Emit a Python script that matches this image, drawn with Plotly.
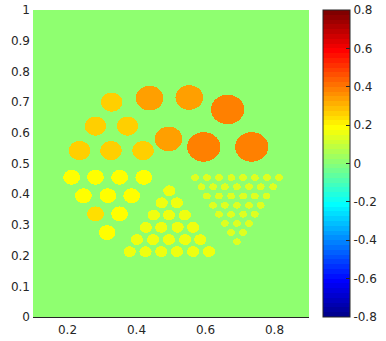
import numpy as np
import plotly.graph_objects as go

# ---- data: circles (centers in data units, radius, value) ----
big_orange_x = [0.664, 0.595, 0.734]
big_orange_y = [0.676, 0.554, 0.554]
big_orange_r = 0.048
big_orange_v = 0.38

small_orange_x = [0.438, 0.553, 0.493]
small_orange_y = [0.713, 0.715, 0.580]
small_orange_r = 0.040
small_orange_v = 0.33

yellow_x = [0.328, 0.281, 0.374, 0.235, 0.326, 0.419]
yellow_y = [0.700, 0.622, 0.622, 0.542, 0.542, 0.542]
yellow_r = 0.031
yellow_v = 0.26

bright_x = [0.212, 0.281, 0.351, 0.421, 0.246, 0.317, 0.386, 0.281, 0.351, 0.315]
bright_y = [0.455, 0.455, 0.455, 0.455, 0.395, 0.395, 0.395, 0.336, 0.336, 0.275]
bright_v = [0.19, 0.19, 0.19, 0.19, 0.19, 0.19, 0.19, 0.235, 0.19, 0.19]
bright_r = 0.024

medium_x = [0.495,
            0.473, 0.517,
            0.450, 0.494, 0.540,
            0.427, 0.472, 0.519, 0.564,
            0.401, 0.448, 0.494, 0.541, 0.585,
            0.380, 0.426, 0.472, 0.517, 0.564, 0.610]
medium_y = [0.411,
            0.372, 0.372,
            0.332, 0.332, 0.332,
            0.292, 0.292, 0.292, 0.292,
            0.252, 0.252, 0.252, 0.252, 0.252,
            0.213, 0.213, 0.213, 0.213, 0.213, 0.213]
medium_r = 0.0175
medium_v = 0.16

tiny_x = [0.570, 0.604, 0.639, 0.675, 0.709, 0.743, 0.778, 0.813,
          0.588, 0.622, 0.656, 0.691, 0.726, 0.760, 0.796,
          0.604, 0.639, 0.674, 0.709, 0.743, 0.777,
          0.622, 0.656, 0.691, 0.726, 0.760,
          0.639, 0.674, 0.709, 0.743,
          0.656, 0.691, 0.726,
          0.674, 0.709,
          0.691]
tiny_y = [0.454] * 8 + [0.424] * 7 + [0.394] * 6 + [0.364] * 5 + \
         [0.335] * 4 + [0.305] * 3 + [0.275] * 2 + [0.245]
tiny_r = 0.0112
tiny_v = 0.14

x_ticks = [0.2, 0.4, 0.6, 0.8]
y_ticks = [0, 0.1, 0.2, 0.3, 0.4, 0.5, 0.6, 0.7, 0.8, 0.9, 1]
cb_ticks = [-0.8, -0.6, -0.4, -0.2, 0, 0.2, 0.4, 0.6, 0.8]
cb_text = ["-0.8", "-0.6", "-0.4", "-0.2", "0", "0.2", "0.4", "0.6", "0.8"]

# ---- raster grid ----
nx, ny = 276, 307
xs = 0.1 + (np.arange(nx) + 0.5) * (0.8 / nx)
ys = (np.arange(ny) + 0.5) * (1.0 / ny)
X, Y = np.meshgrid(xs, ys)
Z = np.zeros_like(X)

def paint(cxs, cys, r, v):
    vals = v if isinstance(v, list) else [v] * len(cxs)
    for cx, cy, val in zip(cxs, cys, vals):
        Z[(X - cx) ** 2 + (Y - cy) ** 2 <= r ** 2] = val

paint(big_orange_x, big_orange_y, big_orange_r, big_orange_v)
paint(small_orange_x, small_orange_y, small_orange_r, small_orange_v)
paint(yellow_x, yellow_y, yellow_r, yellow_v)
paint(bright_x, bright_y, bright_r, bright_v)
paint(medium_x, medium_y, medium_r, medium_v)
paint(tiny_x, tiny_y, tiny_r, tiny_v)

# ---- MATLAB jet(64) as discrete colorscale ----
def jet(n=64):
    m = int(np.ceil(n / 4))
    u = np.concatenate([np.arange(1, m + 1) / m, np.ones(m - 1), np.arange(m, 0, -1) / m])
    g = int(np.ceil(m / 2)) - (1 if n % 4 == 1 else 0) + np.arange(1, len(u) + 1)
    r = g + m
    b = g - m
    cmap = np.zeros((n, 3))
    for arr, col in ((r, 0), (g, 1), (b, 2)):
        mask = (arr >= 1) & (arr <= n)
        cmap[arr[mask] - 1, col] = u[mask]
    return cmap

cm = jet(64)
colorscale = []
for k in range(64):
    c = "rgb(%d,%d,%d)" % tuple(int(round(v * 255)) for v in cm[k])
    colorscale.append([k / 64, c])
    colorscale.append([(k + 1) / 64, c])

txt = "#262626"
fig = go.Figure(go.Heatmap(
    x=xs, y=ys, z=np.round(Z, 3),
    zmin=-0.8, zmax=0.8, colorscale=colorscale, zsmooth=False,
    hoverinfo="skip",
    colorbar=dict(
        thickness=27, len=1, lenmode="fraction", y=0.5, yanchor="middle",
        x=1.051, xanchor="left", xpad=0, ypad=0,
        outlinecolor=txt, outlinewidth=1,
        tickvals=cb_ticks, ticktext=cb_text,
        ticks="inside", ticklen=4, tickcolor=txt,
        tickfont=dict(family="DejaVu Sans", size=12, color=txt),
    ),
))

fig.update_layout(
    width=386, height=341,
    margin=dict(l=33.3, r=76.7, t=10, b=24, autoexpand=False),
    paper_bgcolor="white", plot_bgcolor="white",
    font=dict(family="DejaVu Sans", size=12, color=txt),
    xaxis=dict(range=[0.1, 0.9], tickvals=x_ticks, ticktext=[str(t) for t in x_ticks],
               showgrid=False, zeroline=False, showline=True, linecolor=txt, linewidth=1,
               ticks="", automargin=False, ticklabelstandoff=2,
               tickfont=dict(size=12, color=txt)),
    yaxis=dict(range=[0, 1], tickvals=y_ticks, ticktext=[str(t) for t in y_ticks],
               showgrid=False, zeroline=False, showline=False,
               ticks="", automargin=False, ticklabelstandoff=2,
               tickfont=dict(size=12, color=txt)),
)

fig.write_html("out.html", config={"displayModeBar": False},
               post_script="document.body.style.margin='0';document.body.style.overflow='hidden';")
